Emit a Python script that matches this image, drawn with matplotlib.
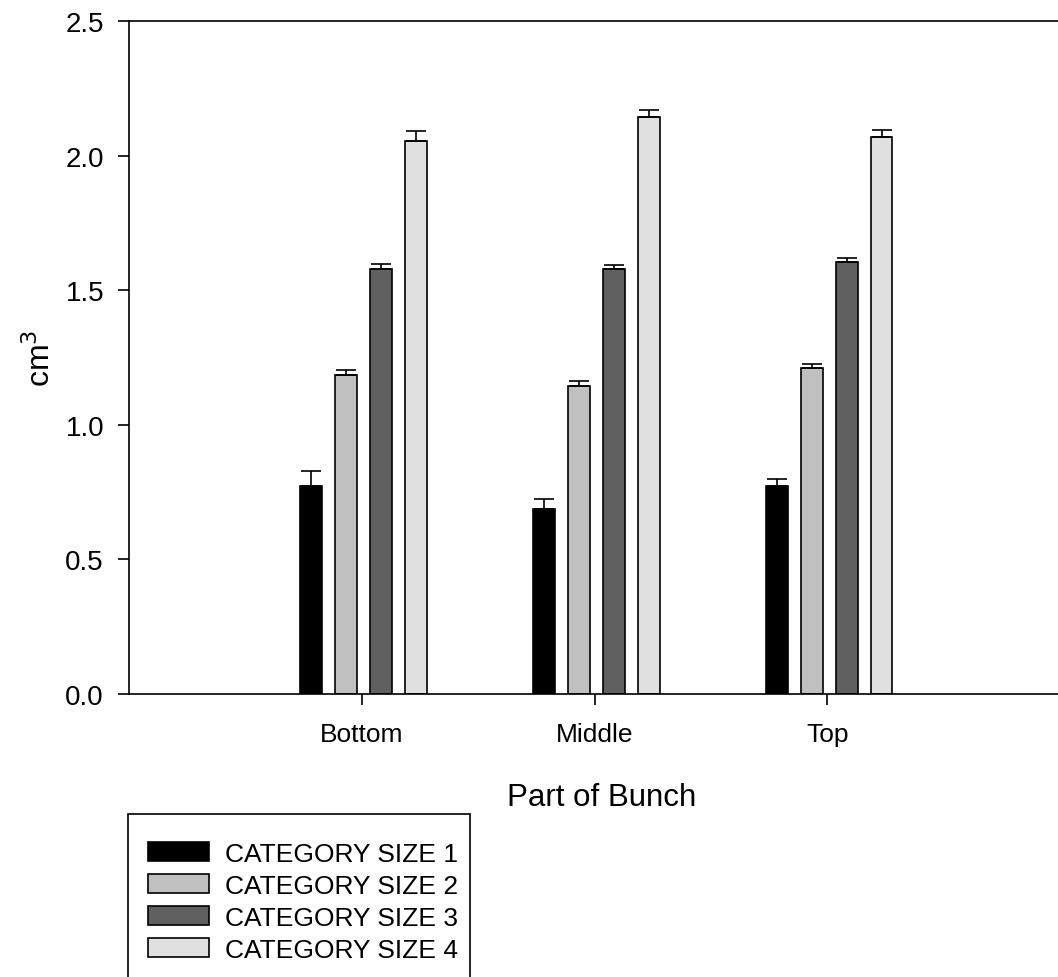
import matplotlib
matplotlib.use('Agg')
import matplotlib.pyplot as plt
from matplotlib.patches import Rectangle
import numpy as np

plt.rcParams['font.family'] = ['Liberation Sans', 'DejaVu Sans']

parts = ['Bottom', 'Middle', 'Top']
series_names = ['CATEGORY SIZE 1', 'CATEGORY SIZE 2', 'CATEGORY SIZE 3', 'CATEGORY SIZE 4']
colors = ['#000000', '#c0c0c0', '#606060', '#e0e0e0']

# mean volume per part of bunch, one list per category size
size1 = [0.773, 0.686, 0.771]
size2 = [1.186, 1.144, 1.211]
size3 = [1.580, 1.580, 1.604]
size4 = [2.053, 2.145, 2.069]

# upper error (standard error)
err1 = [0.056, 0.040, 0.029]
err2 = [0.019, 0.017, 0.015]
err3 = [0.017, 0.014, 0.017]
err4 = [0.040, 0.026, 0.025]

values = [size1, size2, size3, size4]
errors = [err1, err2, err3, err4]

W, H = 1058, 978
fig = plt.figure(figsize=(W / 100, H / 100), dpi=100)
ax = fig.add_axes([129 / W, 1 - 695 / H, 1 - 129 / W, (695 - 22) / H])

x = np.arange(1, len(parts) + 1)
width = 0.094
offsets = [-0.218, -0.068, 0.082, 0.232]

for vals, errs, col, name, off in zip(values, errors, colors, series_names, offsets):
    ax.bar(x + off, vals, width, color=col, edgecolor='black', linewidth=1.2,
           label=name, zorder=2)
    ax.errorbar(x + off, vals, yerr=[np.zeros(len(errs)), errs], fmt='none',
                ecolor='black', elinewidth=1.2, capsize=7.5, capthick=1.2, zorder=3)

ax.set_xlim(0, 3.99)
ax.set_ylim(0, 2.5)
ax.set_yticks([0.0, 0.5, 1.0, 1.5, 2.0, 2.5])
ax.set_yticklabels(['0.0', '0.5', '1.0', '1.5', '2.0', '2.5'])
ax.set_xticks(x)
ax.set_xticklabels(parts)

ax.spines['right'].set_visible(False)
for s in ['left', 'bottom', 'top']:
    ax.spines[s].set_linewidth(1.2)

ax.tick_params(axis='both', direction='out', length=8, width=1.2, labelsize=19)
ax.tick_params(axis='y', labelsize=20, pad=10)
ax.tick_params(axis='x', pad=12)

ax.set_xlabel('Part of Bunch', fontsize=22.5)
ax.xaxis.set_label_coords(0.509, -0.131)
ax.set_ylabel('cm$^3$', fontsize=23, labelpad=6)

# legend box, its bottom runs off the page like the original
fig.patches.append(Rectangle((128 / W, 0 - 10 / H), (470 - 128) / W, (H - 815 + 10) / H,
                             transform=fig.transFigure, facecolor='white',
                             edgecolor='black', linewidth=1.2))
leg = fig.legend(loc='upper left', bbox_to_anchor=(148 / W, 1 - 843 / H),
                 borderaxespad=0, borderpad=0, fontsize=19, frameon=False,
                 handlelength=2.3, handleheight=0.75,
                 handletextpad=0.6, labelspacing=0.3)

fig.savefig('out.png', dpi=100)
